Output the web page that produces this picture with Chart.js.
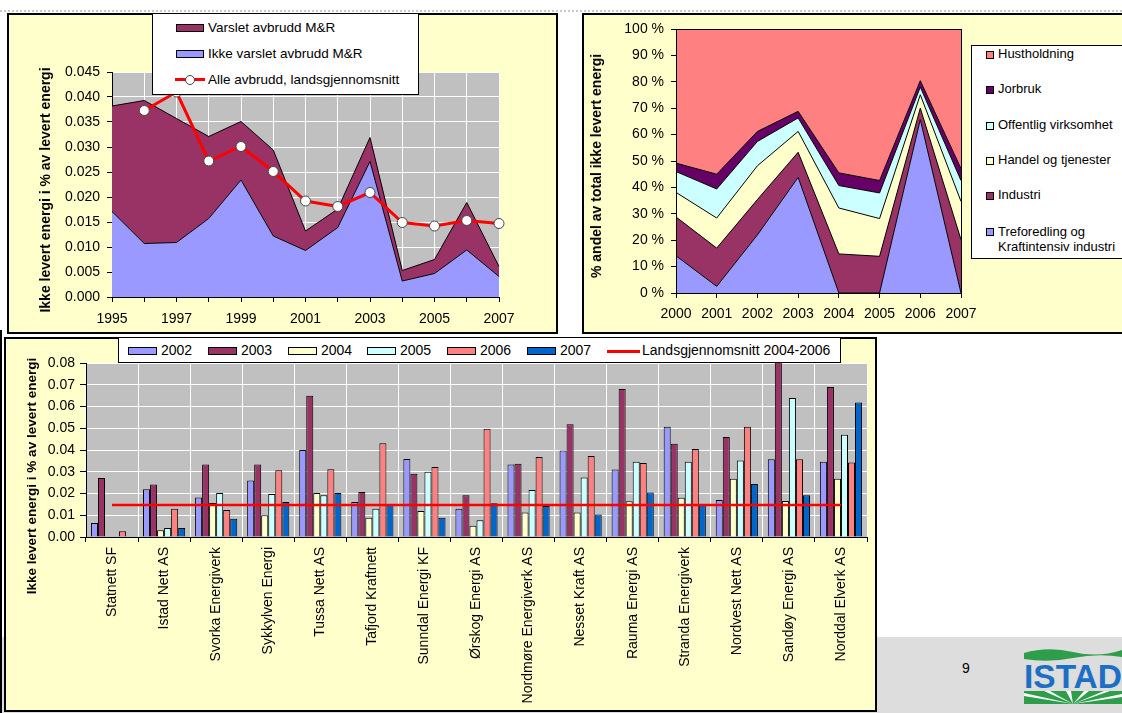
<!DOCTYPE html>
<html><head><meta charset="utf-8">
<script src="https://cdn.jsdelivr.net/npm/chart.js@4.4.0/dist/chart.umd.min.js"></script>
<style>
body{margin:0;width:1122px;height:713px;overflow:hidden;background:#fff;font-family:"Liberation Sans",Arial,sans-serif;position:relative;color:#000}
.box{position:absolute;box-sizing:border-box;border:2px solid #000;background:#FFFFCC}
canvas{position:absolute}
.ytitle{position:absolute;transform:translate(-50%,-50%) rotate(-90deg);white-space:nowrap;font-weight:bold;font-size:14px}
.lg{position:absolute;background:#fff;border:1px solid #000;box-sizing:border-box}
.sw{position:absolute;box-sizing:border-box;border:1px solid #000}
.tx{position:absolute;white-space:nowrap;line-height:15px}
</style></head><body>
<div style="position:absolute;left:0;top:10px;width:1122px;border-top:2px dotted #c8c8c8"></div>
<div style="position:absolute;left:0;top:637px;width:1122px;height:76px;background:#DDDDDD"></div>
<div style="position:absolute;left:0;top:330px;width:2px;height:383px;background:#000"></div>

<div class="box" style="left:7px;top:13px;width:551px;height:321px"></div>
<div class="box" style="left:582px;top:13px;width:560px;height:321px"></div>
<div class="box" style="left:4px;top:337px;width:873px;height:375px"></div>

<canvas id="c1" width="551" height="321" style="left:7px;top:13px"></canvas>
<canvas id="c2" width="540" height="321" style="left:582px;top:13px"></canvas>
<canvas id="c3" width="873" height="375" style="left:4px;top:337px"></canvas>

<div id="overlay"></div>

<div style="position:absolute;left:962px;top:660px;font-size:14px">9</div>
<svg style="position:absolute;left:1024px;top:646px" width="98" height="58" viewBox="0 0 98 58">
  <path d="M0,7 Q24,0 49,6 T98,4 L98,11 Q74,7 49,12 T0,13 Z" fill="#2E9E4A"/>
  <text x="49" y="42" text-anchor="middle" font-family="Liberation Sans, Arial" font-weight="bold" font-size="33" fill="#1B6FC4" textLength="98" lengthAdjust="spacingAndGlyphs">ISTAD</text>
  <path d="M0,45 L98,45 L98,58 L0,58 Z" fill="#2E9E4A"/>
  <path d="M49,58 L0,47 L0,50 Z M49,58 L20,45 L26,45 Z M49,58 L42,45 L47,45 Z M49,58 L60,45 L65,45 Z M49,58 L80,45 L86,45 Z M49,58 L98,48 L98,51 Z" fill="#fff"/>
</svg>

<script>
// ---------- Chart 1 data ----------
const years1 = ['1995','1996','1997','1998','1999','2000','2001','2002','2003','2004','2005','2006','2007'];
const ikkeVarslet = [0.0171,0.0107,0.0109,0.0157,0.0234,0.0122,0.0093,0.0139,0.0271,0.0032,0.0047,0.0094,0.0041];
const varslet     = [0.0211,0.0286,0.0248,0.0164,0.0117,0.0172,0.0039,0.0037,0.0048,0.0021,0.0028,0.0095,0.0020];
const alleAvbrudd = [null,0.0373,0.0410,0.0272,0.0301,0.0251,0.0192,0.0181,0.0209,0.0149,0.0142,0.0153,0.0147];
const yTicks1 = {min:0, max:0.045, step:0.005};

// ---------- Chart 2 data ----------
const years2 = ['2000','2001','2002','2003','2004','2005','2006','2007'];
const treforedling = [14.1, 2.5, 22.0, 43.8, 0, 0, 65.7, 0];
const industri     = [14.7, 14.5, 13.4, 9.5, 14.8, 13.9, 4.3, 20.2];
const handel       = [9.3, 11.4, 12.8, 7.9, 17.4, 14.3, 5.1, 14.5];
const offentlig    = [7.9, 11.0, 9.2, 5.1, 8.5, 9.7, 2.9, 7.9];
const jorbruk      = [3.2, 5.6, 3.8, 2.5, 4.8, 4.7, 2.4, 4.5];
const hustholdning = [50.8, 55.0, 38.8, 31.2, 54.5, 57.4, 19.6, 52.9];

// ---------- Chart 3 data ----------
const companies = ['Statnett SF','Istad Nett AS','Svorka Energiverk','Sykkylven Energi','Tussa Nett AS','Tafjord Kraftnett','Sunndal Energi KF','Ørskog Energi AS','Nordmøre Energiverk AS','Nesset Kraft AS','Rauma Energi AS','Stranda Energiverk','Nordvest Nett AS','Sandøy Energi AS','Norddal Elverk AS'];
const v2002 = [0.0064,0.0219,0.0182,0.0260,0.0400,0.0161,0.0359,0.0130,0.0333,0.0398,0.0310,0.0507,0.0170,0.0357,0.0346];
const v2003 = [0.0271,0.0241,0.0333,0.0333,0.0650,0.0207,0.0291,0.0192,0.0337,0.0518,0.0680,0.0429,0.0460,0.0850,0.0690];
const v2004 = [null,0.0031,0.0156,0.0100,0.0202,0.0089,0.0120,0.0052,0.0113,0.0113,0.0164,0.0181,0.0268,0.0166,0.0268];
const v2005 = [null,0.0041,0.0202,0.0198,0.0192,0.0130,0.0300,0.0077,0.0216,0.0274,0.0346,0.0346,0.0352,0.0639,0.0470];
const v2006 = [0.0026,0.0130,0.0124,0.0307,0.0311,0.0431,0.0322,0.0498,0.0368,0.0372,0.0340,0.0405,0.0507,0.0357,0.0342];
const v2007 = [null,0.0041,0.0084,0.0161,0.0202,0.0152,0.0089,0.0155,0.0143,0.0103,0.0205,0.0150,0.0244,0.0192,0.0618];
const landsgjennomsnitt = [0.0147,0.0147,0.0147,0.0147,0.0147,0.0147,0.0147,0.0147,0.0147,0.0147,0.0147,0.0147,0.0147,0.0147,0.0147];
const barYears = ['2002','2003','2004','2005','2006','2007'];

const FONT = '"Liberation Sans", Arial, sans-serif';
Chart.defaults.font.family = FONT;
Chart.defaults.color = '#000';

const plotBg = {
  id:'plotBg',
  beforeDraw(chart, args, opts){
    const {ctx, chartArea:a} = chart;
    if(opts.color){ctx.save();ctx.fillStyle=opts.color;ctx.fillRect(a.left,a.top,a.right-a.left,a.bottom-a.top);ctx.restore();}
  },
  afterDraw(chart, args, opts){
    const {ctx, chartArea:a} = chart;
    if(opts.border){ctx.save();ctx.strokeStyle=opts.border;ctx.lineWidth=1;ctx.strokeRect(Math.round(a.left)+0.5,Math.round(a.top)+0.5,Math.round(a.right-a.left),Math.round(a.bottom-a.top));ctx.restore();}
  }
};
Chart.register(plotBg);

function fix(w){return s=>{s.width=w;};}
function fixH(h){return s=>{s.height=h;};}

// ---------- Chart 1 ----------
new Chart(document.getElementById('c1'), {
  type:'line',
  data:{labels:years1, datasets:[
    {label:'Ikke varslet avbrudd M&R', data:ikkeVarslet, stack:'a', fill:'origin', backgroundColor:'#9999FF', borderColor:'#000', borderWidth:1, pointRadius:0, tension:0},
    {label:'Varslet avbrudd M&R', data:varslet, stack:'a', fill:'-1', backgroundColor:'#993366', borderColor:'#000', borderWidth:1, pointRadius:0, tension:0},
    {label:'Alle avbrudd, landsgjennomsnitt', data:alleAvbrudd, stack:'b', fill:false, borderColor:'#FF0000', borderWidth:3, pointRadius:5, pointBackgroundColor:'#fff', pointBorderColor:'#444', pointBorderWidth:1, order:-1, spanGaps:false}
  ]},
  options:{
    responsive:false, animation:false, events:[],
    layout:{padding:{left:0, top:59, right:59, bottom:0}},
    plugins:{legend:{display:false}, tooltip:{enabled:false}, plotBg:{color:'#C0C0C0'}},
    scales:{
      x:{offset:false, grid:{color:'#fff', tickColor:'#000', tickLength:5}, border:{color:'#000'},
         ticks:{autoSkip:false, maxRotation:0, padding:9, font:{size:14}, callback:(v,i)=> i%2===0 ? years1[i] : ''},
         afterFit:fixH(37)},
      y:{stacked:true, min:yTicks1.min, max:yTicks1.max, grid:{color:'#fff', tickColor:'#000', tickLength:5}, border:{color:'#000'},
         ticks:{stepSize:yTicks1.step, padding:7, font:{size:14}, callback:v=>v.toFixed(3)},
         afterFit:fix(105)}
    }
  }
});

// ---------- Chart 2 ----------
const c2series = [
  {label:'Treforedling og\nKraftintensiv industri', data:treforedling, color:'#9999FF'},
  {label:'Industri', data:industri, color:'#993366'},
  {label:'Handel og tjenester', data:handel, color:'#FFFFCC'},
  {label:'Offentlig virksomhet', data:offentlig, color:'#CCFFFF'},
  {label:'Jorbruk', data:jorbruk, color:'#660066'},
  {label:'Hustholdning', data:hustholdning, color:'#FF8080'}
];
new Chart(document.getElementById('c2'), {
  type:'line',
  data:{labels:years2, datasets:c2series.map((s,i)=>({label:s.label, data:s.data, fill: i===0?'origin':'-1', backgroundColor:s.color, borderColor:'#000', borderWidth:1, pointRadius:0, tension:0}))},
  options:{
    responsive:false, animation:false, events:[],
    layout:{padding:{left:0, top:16, right:161, bottom:0}},
    plugins:{legend:{display:false}, tooltip:{enabled:false}, plotBg:{border:'#000'}},
    scales:{
      x:{offset:false, grid:{drawOnChartArea:false, tickColor:'#000', tickLength:5}, border:{color:'#000'},
         ticks:{autoSkip:false, maxRotation:0, padding:8, font:{size:14}}, afterFit:fixH(41)},
      y:{stacked:true, min:0, max:100, grid:{drawOnChartArea:false, tickColor:'#000', tickLength:5}, border:{color:'#000'},
         ticks:{stepSize:10, padding:7, font:{size:14}, callback:v=>v+' %'}, afterFit:fix(94)}
    }
  }
});

// ---------- Chart 3 ----------
const barColors = ['#9999FF','#993366','#FFFFCC','#CCFFFF','#FF8080','#0066CC'];
const barData = [v2002,v2003,v2004,v2005,v2006,v2007];
new Chart(document.getElementById('c3'), {
  type:'bar',
  data:{labels:companies, datasets:[
    {type:'line', label:'Landsgjennomsnitt 2004-2006', data:landsgjennomsnitt, borderColor:'#FF0000', borderWidth:2.5, pointRadius:0, fill:false, order:-1},
    ...barData.map((d,i)=>({label:barYears[i], data:d, backgroundColor:barColors[i], borderColor:'#000', borderWidth:1, categoryPercentage:0.81, barPercentage:1}))
  ]},
  options:{
    responsive:false, animation:false, events:[],
    layout:{padding:{left:0, top:26, right:10, bottom:0}},
    plugins:{legend:{display:false}, tooltip:{enabled:false}, plotBg:{color:'#C0C0C0'}},
    scales:{
      x:{grid:{color:'#fff', tickColor:'#000', tickLength:5, offset:true}, border:{color:'#000'},
         ticks:{autoSkip:false, minRotation:90, maxRotation:90, padding:5, font:{size:14}}, afterFit:fixH(175)},
      y:{min:0, max:0.08, grid:{color:'#fff', tickColor:'#000', tickLength:6}, border:{color:'#000'},
         ticks:{stepSize:0.01, padding:5, font:{size:14}, callback:v=>v.toFixed(2)}, afterFit:fix(82)}
    }
  }
});

// ---------- HTML overlays: legends & axis titles ----------
const ov = document.getElementById('overlay');
function el(cls, style, html){const d=document.createElement('div');d.className=cls;d.setAttribute('style',style);if(html!==undefined)d.innerHTML=html;ov.appendChild(d);return d;}
function esc(s){return s.replace(/&/g,'&amp;').replace(/</g,'&lt;').replace(/\n/g,'<br>');}

// y titles
el('ytitle','left:45px;top:190px;font-size:14px','Ikke levert energi i % av levert energi');
el('ytitle','left:596px;top:166px;font-size:14px','% andel av total ikke levert energi');
el('ytitle','left:31px;top:476px;font-size:13.5px','Ikke levert energi i % av levert energi');

// legend 1
el('lg','left:152px;top:13px;width:267px;height:82px');
const lg1 = [
  {label:'Varslet avbrudd M&R', color:'#993366', y:28},
  {label:'Ikke varslet avbrudd M&R', color:'#9999FF', y:53.5},
  {label:'Alle avbrudd, landsgjennomsnitt', line:true, y:79.5}
];
lg1.forEach(e=>{
  if(e.line){
    el('', `position:absolute;left:175px;top:${e.y-1.5}px;width:30px;height:3px;background:#FF0000`);
    el('', `position:absolute;left:185px;top:${e.y-5}px;width:10px;height:10px;border-radius:50%;background:#fff;border:1px solid #444;box-sizing:border-box`);
  } else {
    el('sw', `left:176px;top:${e.y-4}px;width:28px;height:8px;background:${e.color}`);
  }
  el('tx', `left:208px;top:${e.y-8}px;font-size:13.5px`, esc(e.label));
});

// legend 2
el('lg','left:971px;top:45px;width:160px;height:214px');
const lg2y = [54.3, 89.3, 125.3, 160, 195, 231.7];
[...c2series].reverse().forEach((s,i)=>{
  const y = lg2y[i];
  el('sw', `left:986px;top:${y-3.5}px;width:8px;height:8px;background:${s.color}`);
  el('tx', `left:998px;top:${y-8}px;font-size:13px;line-height:15.5px`, esc(s.label));
});

// legend 3
el('lg','left:118px;top:337px;width:723px;height:26px');
const lg3x = [128, 208, 288, 367, 447, 527];
barYears.forEach((yr,i)=>{
  el('sw', `left:${lg3x[i]}px;top:347px;width:29px;height:8px;background:${barColors[i]}`);
  el('tx', `left:${lg3x[i]+33}px;top:343px;font-size:14px`, esc(yr));
});
el('', 'position:absolute;left:607px;top:349.5px;width:33px;height:3px;background:#FF0000');
el('tx', 'left:642px;top:343px;font-size:14px', esc('Landsgjennomsnitt 2004-2006'));
</script>
</body></html>
